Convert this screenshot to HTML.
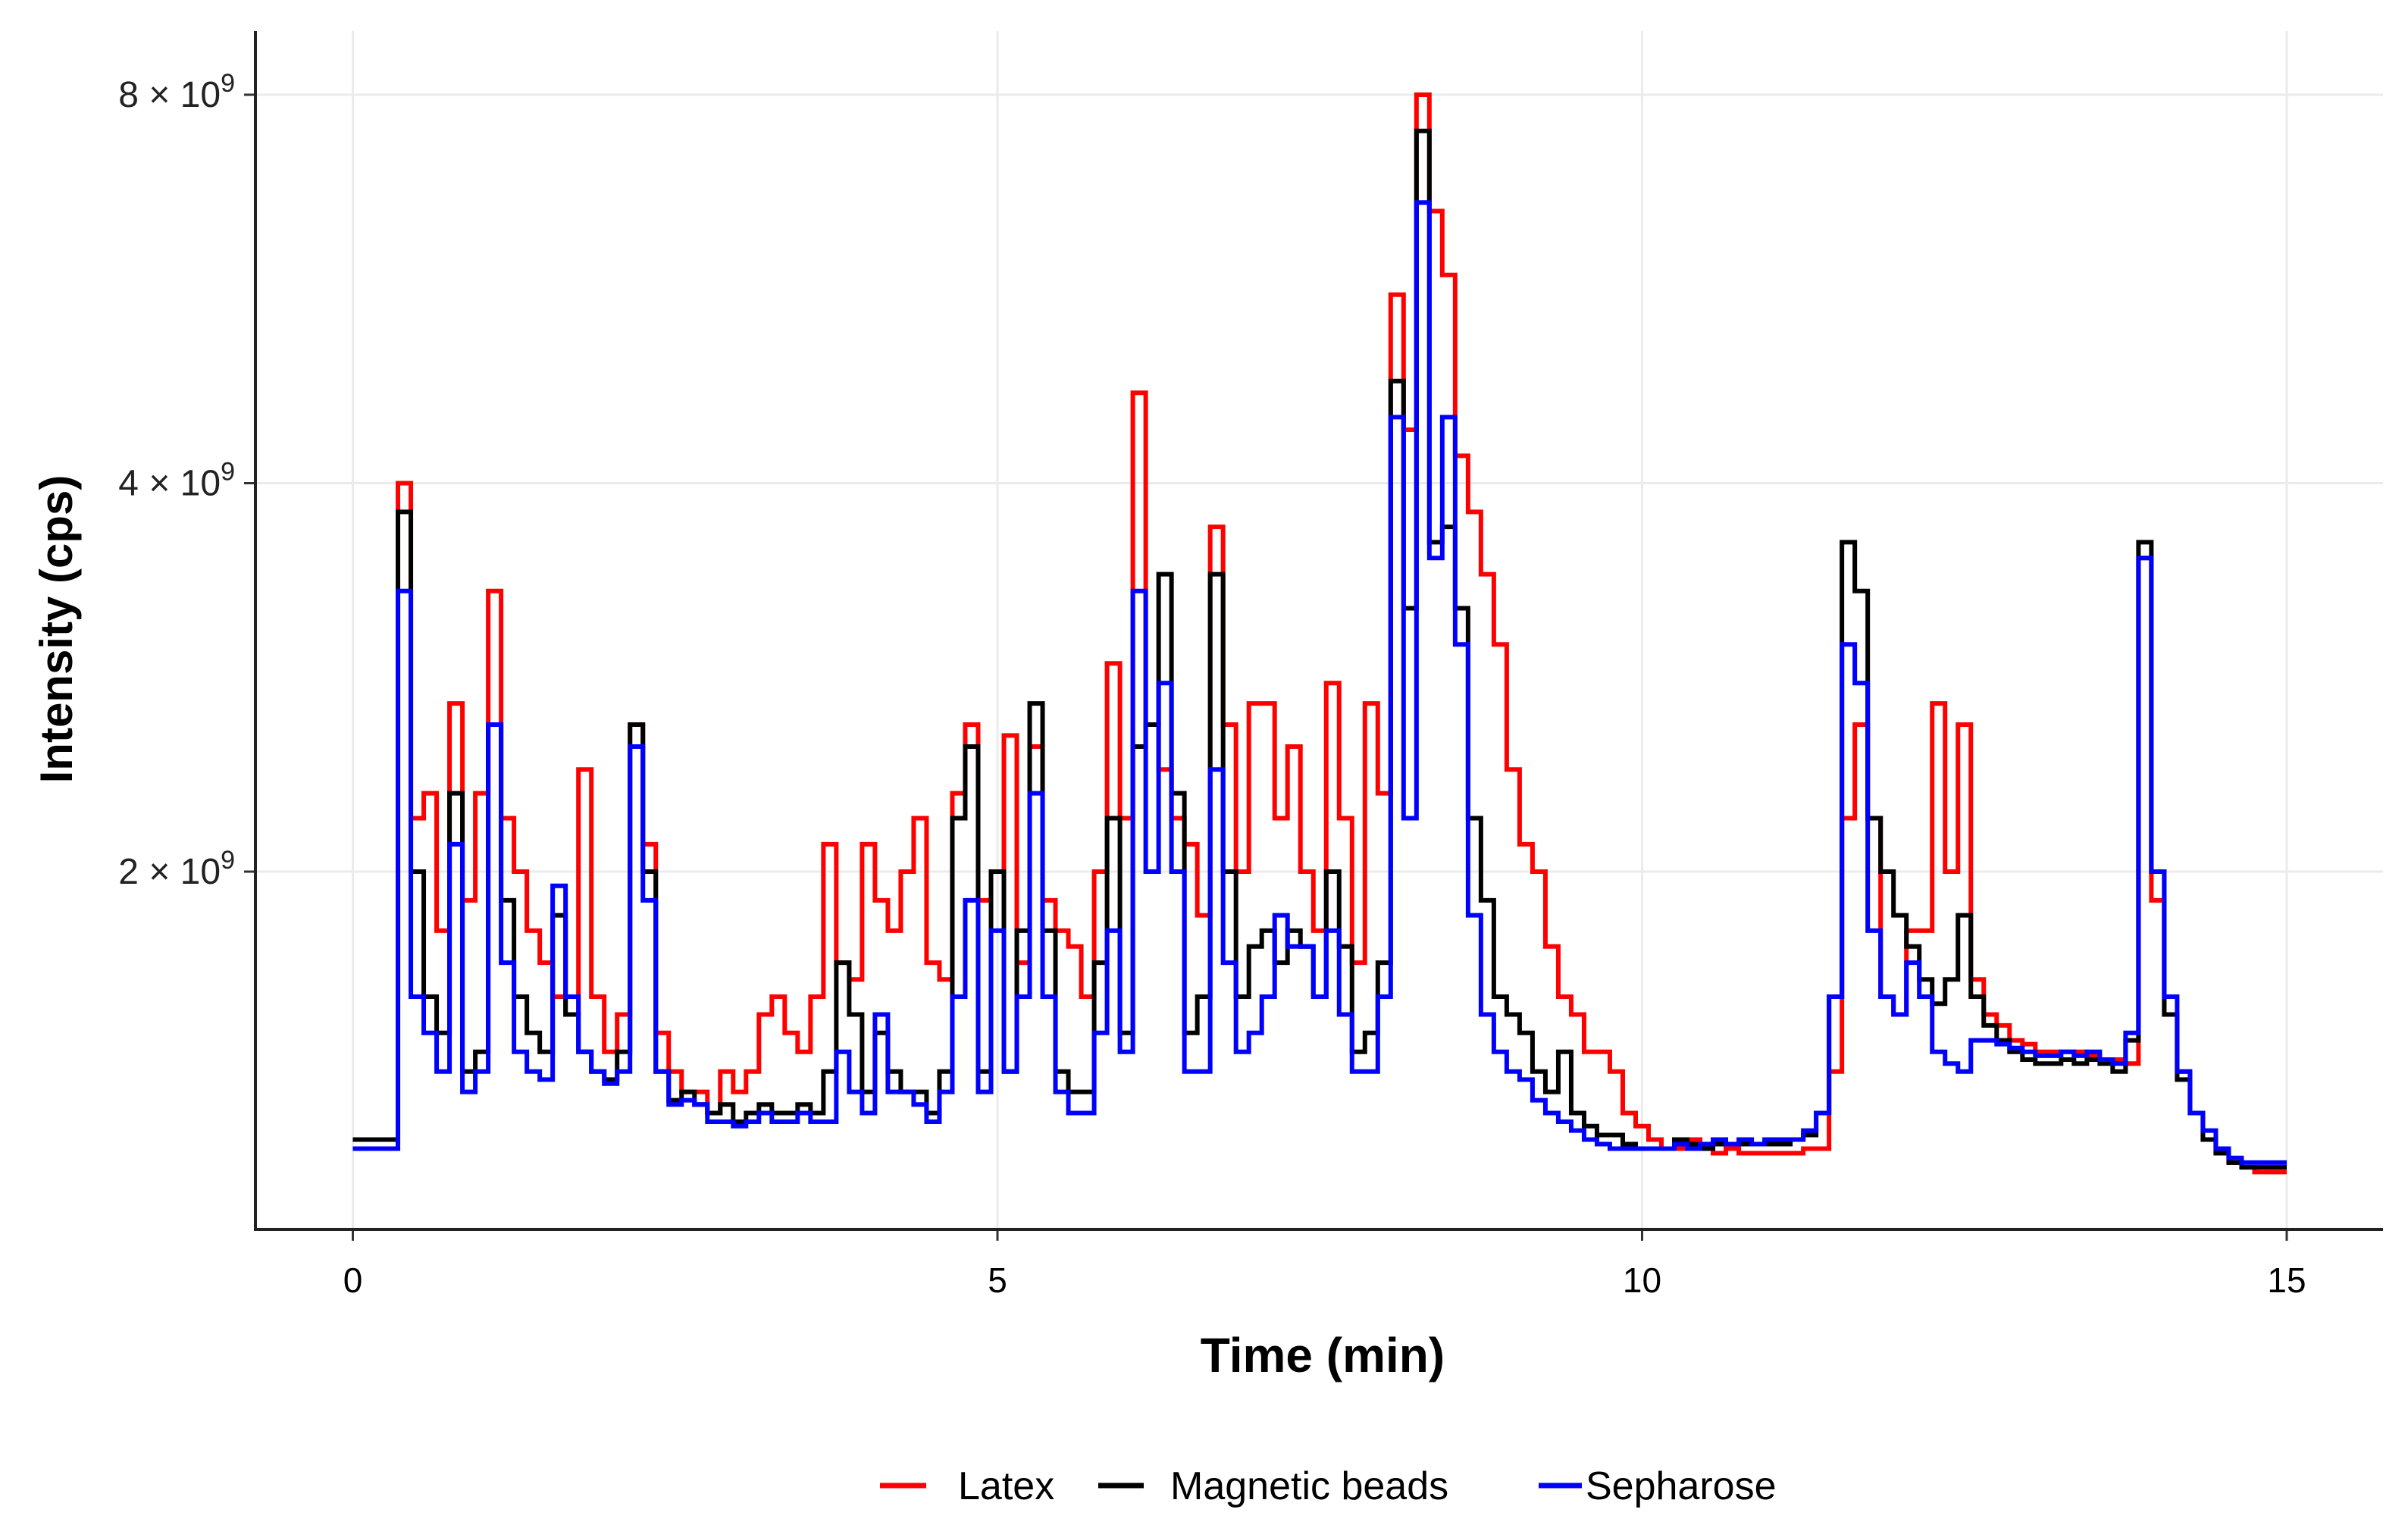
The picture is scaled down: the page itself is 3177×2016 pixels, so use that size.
<!DOCTYPE html>
<html><head><meta charset="utf-8"><style>
html,body{margin:0;padding:0;background:#fff;}
svg{display:block;font-family:"Liberation Sans",sans-serif;}
</style></head><body>
<svg id="chart" width="3177" height="2016" viewBox="0 0 3177 2016">
<g id="grid"></g>
<g id="series"></g>
<g id="axes"></g>
<text x="0" y="0" transform="translate(95,830) rotate(-90)" text-anchor="middle" font-size="60" font-weight="bold" fill="#000">Intensity (cps)</text>
<text x="1745" y="1810" text-anchor="middle" font-size="64" font-weight="bold" fill="#000">Time (min)</text>
<g>
<line x1="1161" y1="1960" x2="1222" y2="1960" stroke="#ff0000" stroke-width="7"/>
<text x="1264" y="1978" font-size="52" fill="#000">Latex</text>
<line x1="1449" y1="1960" x2="1509" y2="1960" stroke="#000" stroke-width="7"/>
<text x="1544" y="1978" font-size="52" fill="#000">Magnetic beads</text>
<line x1="2030" y1="1960" x2="2087" y2="1960" stroke="#0000ff" stroke-width="7"/>
<text x="2092" y="1978" font-size="52" fill="#000">Sepharose</text>
</g>
</svg>
<script>
const timeStart = 0;
const timeStep = 0.1;
const xTicks = [0, 5, 10, 15];
const yTicks = [2, 4, 8];
const yTickLabels = ["2", "4", "8"];
const seriesNames = ["Latex", "Magnetic beads", "Sepharose"];
const latex = [1.22,1.22,1.22,1.22,4.0,2.2,2.3,1.8,2.7,1.9,2.3,3.3,2.2,2.0,1.8,1.7,1.6,1.55,2.4,1.6,1.45,1.55,2.6,2.1,1.5,1.4,1.35,1.35,1.3,1.4,1.35,1.4,1.55,1.6,1.5,1.45,1.6,2.1,1.7,1.65,2.1,1.9,1.8,2.0,2.2,1.7,1.65,2.3,2.6,1.9,2.0,2.55,1.7,2.5,1.9,1.8,1.75,1.6,2.0,2.9,2.2,4.7,2.6,2.4,2.2,2.1,1.85,3.7,2.6,2.0,2.7,2.7,2.2,2.5,2.0,1.8,2.8,2.2,1.7,2.7,2.3,5.6,4.4,8.0,6.5,5.8,4.2,3.8,3.4,3.0,2.4,2.1,2.0,1.75,1.6,1.55,1.45,1.45,1.4,1.3,1.27,1.24,1.22,1.22,1.24,1.22,1.21,1.22,1.21,1.21,1.21,1.21,1.21,1.22,1.22,1.4,2.2,2.6,2.2,1.6,1.55,1.8,1.8,2.7,2.0,2.6,1.65,1.55,1.52,1.48,1.47,1.45,1.45,1.45,1.45,1.44,1.43,1.43,1.42,3.5,1.9,1.55,1.4,1.3,1.24,1.21,1.19,1.18,1.17,1.17,1.17];
const magnetic = [1.24,1.24,1.24,1.24,3.8,2.0,1.6,1.5,2.3,1.4,1.45,2.6,1.9,1.6,1.5,1.45,1.85,1.55,1.45,1.4,1.38,1.45,2.6,2.0,1.4,1.33,1.35,1.32,1.3,1.32,1.28,1.3,1.32,1.3,1.3,1.32,1.3,1.4,1.7,1.55,1.35,1.5,1.4,1.35,1.35,1.3,1.4,2.2,2.5,1.4,2.0,1.4,1.8,2.7,1.8,1.4,1.35,1.35,1.7,2.2,1.5,2.5,2.6,3.4,2.3,1.5,1.6,3.4,2.0,1.6,1.75,1.8,1.7,1.8,1.75,1.6,2.0,1.75,1.45,1.5,1.7,4.8,3.2,7.5,3.6,3.7,3.2,2.2,1.9,1.6,1.55,1.5,1.4,1.35,1.45,1.3,1.27,1.25,1.25,1.23,1.22,1.22,1.22,1.24,1.23,1.22,1.23,1.23,1.23,1.23,1.23,1.23,1.24,1.25,1.3,1.6,3.6,3.3,2.2,2.0,1.85,1.75,1.65,1.58,1.65,1.85,1.6,1.52,1.48,1.45,1.43,1.42,1.42,1.43,1.42,1.43,1.42,1.4,1.48,3.6,2.0,1.55,1.38,1.3,1.24,1.21,1.19,1.18,1.18,1.18,1.18];
const sepharose = [1.22,1.22,1.22,1.22,3.3,1.6,1.5,1.4,2.1,1.35,1.4,2.6,1.7,1.45,1.4,1.38,1.95,1.6,1.45,1.4,1.37,1.4,2.5,1.9,1.4,1.32,1.33,1.32,1.28,1.28,1.27,1.28,1.3,1.28,1.28,1.3,1.28,1.28,1.45,1.35,1.3,1.55,1.35,1.35,1.32,1.28,1.35,1.6,1.9,1.35,1.8,1.4,1.6,2.3,1.6,1.35,1.3,1.3,1.5,1.8,1.45,3.3,2.0,2.8,2.0,1.4,1.4,2.4,1.7,1.45,1.5,1.6,1.85,1.75,1.75,1.6,1.8,1.55,1.4,1.4,1.6,4.5,2.2,6.6,3.5,4.5,3.0,1.85,1.55,1.45,1.4,1.38,1.33,1.3,1.28,1.26,1.24,1.23,1.22,1.22,1.22,1.22,1.22,1.23,1.22,1.23,1.24,1.23,1.24,1.23,1.24,1.24,1.24,1.26,1.3,1.6,3.0,2.8,1.8,1.6,1.55,1.7,1.6,1.45,1.42,1.4,1.48,1.48,1.47,1.46,1.45,1.44,1.44,1.45,1.44,1.45,1.43,1.42,1.5,3.5,2.0,1.6,1.4,1.3,1.26,1.22,1.2,1.19,1.19,1.19,1.19];

const NS = "http://www.w3.org/2000/svg";
const X0 = 465.5, PXMIN = 170.1;
const Y2 = 1150, PXOCT = 512.5;
const LEFT = 337, RIGHT = 3144, TOP = 41, BOTTOM = 1622;
function xScale(t){ return X0 + t * PXMIN; }
function yScale(v){ return Y2 - PXOCT * Math.log2(v / 2); }
function mk(tag, attrs, parent){ const e = document.createElementNS(NS, tag); for (const k in attrs) e.setAttribute(k, attrs[k]); parent.appendChild(e); return e; }

const grid = document.getElementById('grid');
const axes = document.getElementById('axes');
xTicks.forEach(t => {
  const g = mk('line', {x1: xScale(t), x2: xScale(t), y1: TOP, y2: BOTTOM, stroke: '#ebebeb', 'stroke-width': 3}, grid);
  
  
  const tk = mk('line', {x1: xScale(t), x2: xScale(t), y1: BOTTOM, y2: BOTTOM + 15, stroke: '#333', 'stroke-width': 3}, axes);
  
  
  const lb = mk('text', {x: xScale(t), y: 1705, 'text-anchor': 'middle', 'font-size': 46, fill: '#000'}, axes);
  lb.textContent = String(t);
  
  
});
yTicks.forEach((v, i) => {
  const y = yScale(v);
  const g = mk('line', {x1: LEFT, x2: RIGHT, y1: y, y2: y, stroke: '#ebebeb', 'stroke-width': 3}, grid);
  
  
  const tk = mk('line', {x1: LEFT - 15, x2: LEFT, y1: y, y2: y, stroke: '#333', 'stroke-width': 3}, axes);
  
  
  const lb = mk('text', {x: 310, y: y + 16, 'text-anchor': 'end', 'font-size': 48, fill: '#222'}, axes);
  lb.innerHTML = yTickLabels[i] + ' \u00d7 10<tspan dy="-20" font-size="34">9</tspan>';
  
  
});
const ax = mk('line', {x1: LEFT, x2: LEFT, y1: TOP, y2: BOTTOM + 2, stroke: '#222', 'stroke-width': 4}, axes);


const bx = mk('line', {x1: LEFT - 2, x2: RIGHT, y1: BOTTOM, y2: BOTTOM, stroke: '#222', 'stroke-width': 4}, axes);



const sg = document.getElementById('series');
[[latex, '#ff0000', 'series-latex'], [magnetic, '#000000', 'series-magnetic-beads'], [sepharose, '#0000ff', 'series-sepharose']].forEach(([vals, col, nm]) => {
  let d = '';
  const n = vals.length;
  vals.forEach((v, i) => {
    const t = timeStart + i * timeStep;
    const xa = xScale(Math.max(timeStart, t - timeStep / 2));
    const xb = xScale(Math.min(timeStart + (n - 1) * timeStep, t + timeStep / 2));
    const y = yScale(v);
    if (i === 0) d += 'M' + xa + ' ' + y + 'H' + xb;
    else d += 'V' + y + 'H' + xb;
  });
  const p = mk('path', {d: d, fill: 'none', stroke: col, 'stroke-width': 6, 'stroke-linejoin': 'miter'}, sg);
  
  
});
</script>
</body></html>
